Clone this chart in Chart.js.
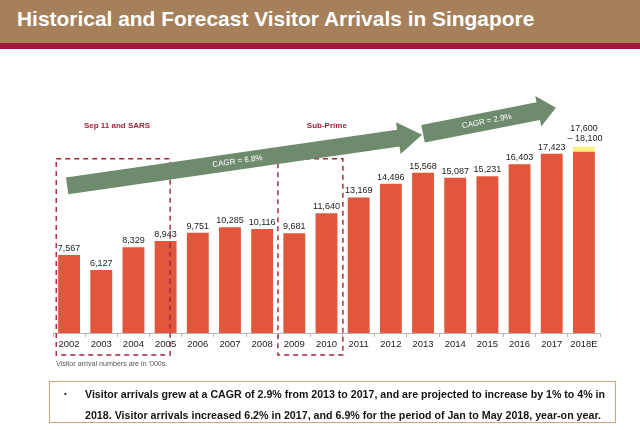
<!DOCTYPE html>
<html>
<head>
<meta charset="utf-8">
<script src="https://cdn.jsdelivr.net/npm/chart.js@4.4.1/dist/chart.umd.min.js"></script>
<style>
  body { margin: 0; width: 640px; height: 430px; overflow: hidden; background: #fff; position: relative;
         font-family: "Liberation Sans", Arial, sans-serif; }
  #cabecera { position: absolute; left: 0; top: 0; width: 640px; height: 43px; background: #A6805A;
              border-bottom: 6px solid #A3173C; z-index: 2; }
  #titulo { position: absolute; left: 16px; top: 8px; line-height: 21px; font-size: 21px; font-weight: bold;
            color: #fff; white-space: nowrap; }
  #lienzo { position: absolute; left: 0; top: 0; }
  #nota { position: absolute; left: 56px; top: 359.5px; font-size: 7px; line-height: 8px; color: #555; white-space: nowrap;
          display: inline-block; transform-origin: 0 50%; }
  #caja { position: absolute; left: 49px; top: 381px; width: 567px; height: 42px; box-sizing: border-box;
          border: 1.5px solid #D8A470; }
  .linea { position: absolute; left: 85px; font-size: 10px; line-height: 13px; font-weight: bold; color: #151515;
           white-space: nowrap; display: inline-block; transform-origin: 0 50%; }
  #punto { position: absolute; left: 64px; top: 387px; font-size: 8px; line-height: 13px; color: #151515; }
</style>
</head>
<body>
<div id="cabecera"><div id="titulo"></div></div>
<canvas id="lienzo" width="640" height="430"></canvas>
<div id="nota"></div>
<div id="caja"></div>
<div id="punto">&#8226;</div>
<div class="linea" id="linea1" style="top:387.5px"></div>
<div class="linea" id="linea2" style="top:408.5px"></div>

<script>
// datos del grafico (miles de visitantes)
var years = ['2002', '2003', '2004', '2005', '2006', '2007', '2008', '2009', '2010',
             '2011', '2012', '2013', '2014', '2015', '2016', '2017', '2018E'];
var arrivals = [7567, 6127, 8329, 8943, 9751, 10285, 10116, 9681, 11640,
                13169, 14496, 15568, 15087, 15231, 16403, 17423];
var forecastLow = 17600;
var forecastHigh = 18100;

var titleText = 'Historical and Forecast Visitor Arrivals in Singapore';
var noteText = "Visitor arrival numbers are in '000s.";
var bulletLines = [
  'Visitor arrivals grew at a CAGR of 2.9% from 2013 to 2017, and are projected to increase by 1% to 4% in',
  '2018. Visitor arrivals increased 6.2% in 2017, and 6.9% for the period of Jan to May 2018, year-on year.'
];

var redValues = arrivals.concat([forecastLow]);
var yellowValues = years.map(function (y, i) {
  return i === years.length - 1 ? forecastHigh - forecastLow : null;
});

function fmt(n) { return n.toLocaleString('en-US'); }

// textos html
document.getElementById('titulo').textContent = titleText;
document.getElementById('nota').textContent = noteText;
document.getElementById('linea1').textContent = bulletLines[0];
document.getElementById('linea2').textContent = bulletLines[1];

function ajustar(id, ancho) {
  var el = document.getElementById(id);
  var w = el.offsetWidth;
  if (w > 0) el.style.transform = 'scaleX(' + (ancho / w) + ')';
}
ajustar('titulo', 517);
ajustar('nota', 111);
ajustar('linea1', 520);
ajustar('linea2', 516);

var FONT = '"Liberation Sans", Arial, sans-serif';

// etiquetas de valor encima de las barras
var etiquetasPlugin = {
  id: 'etiquetas',
  afterDatasetsDraw: function (chart) {
    var ctx = chart.ctx;
    var rojas = chart.getDatasetMeta(0).data;
    var amarillas = chart.getDatasetMeta(1).data;
    var n = years.length - 1;
    ctx.save();
    ctx.font = '9px ' + FONT;
    ctx.fillStyle = '#222';
    ctx.textAlign = 'center';
    ctx.textBaseline = 'bottom';
    for (var i = 0; i < n; i++) {
      ctx.fillText(fmt(arrivals[i]), rojas[i].x, rojas[i].y - 2);
    }
    var ult = amarillas[n];
    ctx.fillText(fmt(forecastLow), ult.x, ult.y - 13.5);
    ctx.fillText('\u2013 ' + fmt(forecastHigh), ult.x + 1, ult.y - 3.5);
    ctx.restore();
  }
};

// cajas punteadas, flechas CAGR (posiciones en unidades del grafico)
var cajas = [
  { x0: -0.4, x1: 3.14, top: 16930, bottom: -2140, label: 'Sep 11 and SARS', lx: 1.49 },
  { x0: 6.49, x1: 8.51, top: 16930, bottom: -2140, label: 'Sub-Prime', lx: 8.01 }
];
var flechas = [
  { x0: -0.06, y0: 14300, x1: 10.97, y1: 19260, grueso: 17, cabeza: 24, ancho: 16, texto: 'CAGR = 6.8%' },
  { x0: 11.0, y0: 19360, x1: 15.13, y1: 21890, grueso: 18, cabeza: 18, ancho: 15.5, texto: 'CAGR = 2.9%' }
];

var anotacionesPlugin = {
  id: 'anotaciones',
  afterDraw: function (chart) {
    var ctx = chart.ctx;
    var xs = chart.scales.x, ys = chart.scales.y;
    ctx.save();

    cajas.forEach(function (c) {
      var l = xs.getPixelForValue(c.x0), r = xs.getPixelForValue(c.x1);
      var t = ys.getPixelForValue(c.top), b = ys.getPixelForValue(c.bottom);
      ctx.setLineDash([5, 4]);
      ctx.lineWidth = 1.4;
      ctx.strokeStyle = '#A52238';
      ctx.strokeRect(l, t, r - l, b - t);
      ctx.setLineDash([]);
      ctx.font = 'bold 8px ' + FONT;
      ctx.fillStyle = '#A3263A';
      ctx.textAlign = 'center';
      ctx.textBaseline = 'middle';
      ctx.fillText(c.label, xs.getPixelForValue(c.lx), ys.getPixelForValue(20140));
    });

    flechas.forEach(function (f) {
      var sx = xs.getPixelForValue(f.x0), sy = ys.getPixelForValue(f.y0);
      var tx = xs.getPixelForValue(f.x1), ty = ys.getPixelForValue(f.y1);
      var dx = tx - sx, dy = ty - sy, len = Math.sqrt(dx * dx + dy * dy);
      var ux = dx / len, uy = dy / len, nx = -uy, ny = ux;
      var bx = tx - ux * f.cabeza, by = ty - uy * f.cabeza;
      var g = f.grueso / 2;
      ctx.beginPath();
      ctx.moveTo(sx + nx * g, sy + ny * g);
      ctx.lineTo(bx + nx * g, by + ny * g);
      ctx.lineTo(bx + nx * f.ancho, by + ny * f.ancho);
      ctx.lineTo(tx, ty);
      ctx.lineTo(bx - nx * f.ancho, by - ny * f.ancho);
      ctx.lineTo(bx - nx * g, by - ny * g);
      ctx.lineTo(sx - nx * g, sy - ny * g);
      ctx.closePath();
      ctx.fillStyle = '#6E8B6E';
      ctx.fill();

      ctx.save();
      ctx.translate(sx + dx * 0.48, sy + dy * 0.48);
      ctx.rotate(Math.atan2(dy, dx));
      ctx.font = '8px ' + FONT;
      ctx.fillStyle = '#fff';
      ctx.textAlign = 'center';
      ctx.textBaseline = 'middle';
      ctx.fillText(f.texto, 0, 0);
      ctx.restore();
    });

    ctx.restore();
  }
};

var ctx = document.getElementById('lienzo').getContext('2d');
var grafico = new Chart(ctx, {
  type: 'bar',
  data: {
    labels: years,
    datasets: [{
      label: 'Visitor arrivals',
      data: redValues,
      backgroundColor: '#E1573B',
      barPercentage: 0.68,
      categoryPercentage: 1
    }, {
      label: 'Forecast range',
      data: yellowValues,
      backgroundColor: '#FDF07E',
      barPercentage: 0.68,
      categoryPercentage: 1
    }]
  },
  options: {
    responsive: false,
    animation: false,
    layout: { padding: { left: 53, right: 40, top: 86, bottom: 77 } },
    plugins: {
      legend: { display: false },
      tooltip: { enabled: false }
    },
    scales: {
      x: {
        stacked: true,
        grid: { display: true, drawOnChartArea: false, drawTicks: true, tickLength: 4, color: '#b5b5b5', offset: true },
        border: { display: true, color: '#b5b5b5', width: 1 },
        ticks: { color: '#222', font: { size: 9.5, family: FONT }, padding: 2, maxRotation: 0, autoSkip: false },
        afterFit: function (s) { s.height = 20; }
      },
      y: { stacked: true, display: false, min: 0, max: 24000 }
    }
  },
  plugins: [etiquetasPlugin, anotacionesPlugin]
});
</script>
</body>
</html>
